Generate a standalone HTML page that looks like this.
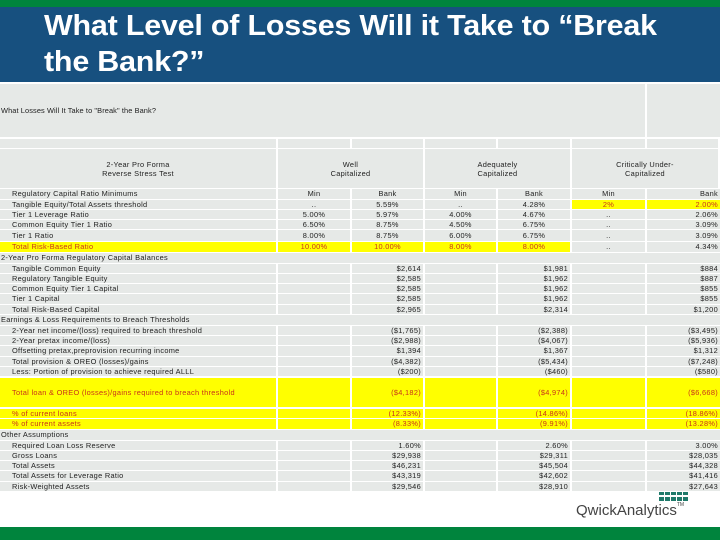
<!DOCTYPE html>
<html><head><meta charset="utf-8"><style>
body{margin:0;width:720px;height:540px;position:relative;background:#fff;font-family:"Liberation Sans",sans-serif;overflow:hidden}
.abs{position:absolute;box-sizing:border-box}
.c{position:absolute;box-sizing:border-box;background:#e6e9e7;font-size:7.4px;line-height:1;color:#222;white-space:nowrap;display:flex;align-items:center;letter-spacing:0.3px}
.r{justify-content:flex-end;padding-right:2px}
.m{justify-content:center}
.y{background:#ffff00;color:#c8341a}
</style></head><body>
<div class="abs" style="left:0;top:0;width:720px;height:7px;background:#00843d"></div>
<div class="abs" style="left:0;top:7px;width:720px;height:75px;background:#17507f"></div>
<div class="abs" style="left:44px;top:8px;width:800px;color:#fff;font-size:29px;font-weight:bold;line-height:36px;letter-spacing:-0.2px;transform:scaleX(1.05);transform-origin:0 0;white-space:nowrap">What Level of Losses Will it Take to “Break<br>the Bank?”</div>
<div class="abs" style="left:0;top:527px;width:720px;height:13px;background:#00843d"></div>
<div class="abs" style="left:659px;top:492px;width:30px;height:9px;background:repeating-linear-gradient(90deg,#1f7a6a 0 5px,transparent 5px 6px),transparent;-webkit-mask:linear-gradient(#000 0 3px,transparent 3px 5px,#000 5px 8px)"></div>
<div class="abs" style="left:576px;top:502px;font-size:15px;color:#444;letter-spacing:0px">QwickAnalytics<span style="font-size:5px;vertical-align:top">TM</span></div>
<div id="tbl"></div>
<script>
const colX=[0,278,352,425,498,572,647,720];
const hdrTitle="What Losses Will It Take to \"Break\" the Bank?";
const rowLabels=["Regulatory Capital Ratio Minimums","Tangible Equity/Total Assets threshold","Tier 1 Leverage Ratio","Common Equity Tier 1 Ratio","Tier 1 Ratio","Total Risk-Based Ratio","2-Year Pro Forma Regulatory Capital Balances","Tangible Common Equity","Regulatory Tangible Equity","Common Equity Tier 1 Capital","Tier 1 Capital","Total Risk-Based Capital","Earnings & Loss Requirements to Breach Thresholds","2-Year net income/(loss) required to breach threshold","2-Year pretax income/(loss)","Offsetting pretax,preprovision recurring income","Total provision & OREO (losses)/gains","Less: Portion of provision to achieve required ALLL","Total loan & OREO (losses)/gains required to breach threshold","% of current loans","% of current assets","Other Assumptions","Required Loan Loss Reserve","Gross Loans","Total Assets","Total Assets for Leverage Ratio","Risk-Weighted Assets"];
const rowValues=[
["Min","Bank","Min","Bank","Min","Bank"],
["..","5.59%","..","4.28%","2%","2.00%"],
["5.00%","5.97%","4.00%","4.67%","..","2.06%"],
["6.50%","8.75%","4.50%","6.75%","..","3.09%"],
["8.00%","8.75%","6.00%","6.75%","..","3.09%"],
["10.00%","10.00%","8.00%","8.00%","..","4.34%"],
null,
["","$2,614","","$1,981","","$884"],
["","$2,585","","$1,962","","$887"],
["","$2,585","","$1,962","","$855"],
["","$2,585","","$1,962","","$855"],
["","$2,965","","$2,314","","$1,200"],
null,
["","($1,765)","","($2,388)","","($3,495)"],
["","($2,988)","","($4,067)","","($5,936)"],
["","$1,394","","$1,367","","$1,312"],
["","($4,382)","","($5,434)","","($7,248)"],
["","($200)","","($460)","","($580)"],
["","($4,182)","","($4,974)","","($6,668)"],
["","(12.33%)","","(14.86%)","","(18.86%)"],
["","(8.33%)","","(9.91%)","","(13.28%)"],
null,
["","1.60%","","2.60%","","3.00%"],
["","$29,938","","$29,311","","$28,035"],
["","$46,231","","$45,504","","$44,328"],
["","$43,319","","$42,602","","$41,416"],
["","$29,546","","$28,910","","$27,643"]];
const tops=[189,200,210,220,230,242,253,264,274,284,294,305,315,326,336,346,357,367,378,409,419,430,441,451,461,471,482];
const hts=[10,9,9,9,11,10,10,9,9,9,10,9,10,9,9,10,9,9,29,9,10,10,9,9,9,10,9];
const tbl=document.getElementById('tbl');
function cell(x,y,w,h,txt,cls){const d=document.createElement('div');d.className='c '+(cls||'');d.style.left=x+'px';d.style.top=y+'px';d.style.width=w+'px';d.style.height=h+'px';d.textContent=txt;tbl.appendChild(d);return d;}
let e=cell(0,84,645,53,hdrTitle,'');e.style.paddingLeft='1px';e.style.letterSpacing='0.1px';


e=cell(647,84,73,53,'','');


for(let i=0;i<7;i++){e=cell(colX[i],139,colX[i+1]-colX[i]-2,9,'','');

}
const groups=[["2-Year Pro Forma\nReverse Stress Test",0,1],["Well\nCapitalized",1,3],["Adequately\nCapitalized",3,5],["Critically Under-\nCapitalized",5,7]];
groups.forEach(g=>{e=cell(colX[g[1]],149,colX[g[2]]-colX[g[1]]-2,39,'','m');e.style.whiteSpace='pre';e.style.textAlign='center';e.style.lineHeight='9px';e.textContent=g[0];

});
const yellowRows={5:[0,1,2,3,4],18:'all',19:'all',20:'all'};
rowLabels.forEach((lab,i)=>{
 const y=tops[i],h=hts[i],v=rowValues[i];
 if(!v){e=cell(0,y,720,h,lab,'');e.style.paddingLeft='1px';
 
 return;}
 const yl=(yellowRows[i]==='all')||(yellowRows[i]&&yellowRows[i].includes(0));
 e=cell(0,y,276,h,lab,yl?'y':'');e.style.paddingLeft='12px';
 
 
 for(let j=0;j<6;j++){
  let yc=(yellowRows[i]==='all')||(yellowRows[i]&&yellowRows[i].includes(j+1));
  if(i===1&&j>=4)yc=true;
  const al=(i<6&&j!==5)?'m':'r';
  e=cell(colX[j+1],y,colX[j+2]-colX[j+1]-2,h,v[j],al+(yc?' y':''));
  if(j===5)e.style.width=(colX[j+2]-colX[j+1])+'px';
  
  
 }
});
</script>
</body></html>
